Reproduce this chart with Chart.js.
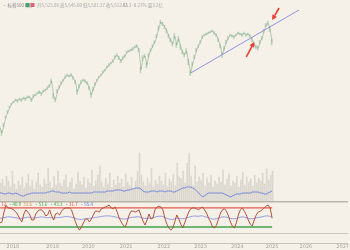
<!DOCTYPE html>
<html><head><meta charset="utf-8">
<script src="https://cdn.jsdelivr.net/npm/chart.js@4.4.1/dist/chart.umd.min.js"></script>
<style>html,body{margin:0;padding:0;background:#f5f0e8;overflow:hidden}#wrap{width:350px;height:250px}</style>
</head><body><div id="wrap"><canvas id="c" width="350" height="250"></canvas></div>
<script>
const yearLabels = ['2018','2019','2020','2021','2022','2023','2024','2025','2026','2027'];
const yearTickIndex = [6.5,26.5,44.5,63.5,82.5,101,119.5,137,154,172.5];
const prices = [
3080,3005,3125,3245,3320,3395,3440,3470,3500,3485,
3515,3500,3530,3515,3545,3545,3500,3560,3575,3605,
3620,3590,3635,3650,3680,3710,3785,3560,3500,3635,
3695,3755,3800,3845,3875,3860,3875,3830,3770,3620,
3710,3770,3800,3785,3755,3680,3575,3665,3740,3800,
3845,3875,3920,3950,3995,4025,4055,4085,4145,4175,
4130,4085,4130,4160,4220,4235,4250,4265,4295,4310,
4250,3950,4130,4160,4025,4175,4250,4310,4370,4460,
4580,4670,4640,4595,4535,4460,4400,4340,4460,4325,
4415,4295,4220,4175,4235,4070,3905,4040,4145,4250,
4310,4370,4445,4475,4490,4505,4520,4535,4505,4475,
4400,4310,4175,4280,4370,4430,4475,4460,4445,4475,
4505,4490,4475,4505,4475,4490,4460,4400,4340,4295,
4280,4370,4430,4535,4625,4655,4565,4370];
const priceSpread = [
25,35,25,15,20,15,15,10,15,20,
15,20,15,20,15,15,25,20,15,15,
20,20,15,15,20,20,30,35,30,25,
20,20,15,20,15,15,20,20,25,35,
30,20,15,20,20,25,35,30,20,15,
15,15,20,15,15,20,15,20,20,20,
25,25,20,20,15,15,15,20,15,20,
30,45,35,25,35,30,20,20,20,25,
30,25,25,25,30,30,30,30,35,35,
35,35,30,30,35,40,35,30,25,25,
20,20,20,15,15,15,15,15,20,20,
25,30,35,30,25,20,15,15,20,15,
15,15,20,15,20,15,20,25,30,30,
30,25,25,25,25,30,35,45];
const volumes = [
180,220,150,250,200,140,300,170,120,200,160,
240,130,180,270,150,210,120,190,280,160,
140,220,170,330,190,130,250,160,300,180,
150,210,260,140,190,230,120,170,290,200,
160,240,130,220,180,310,150,200,260,350,
190,140,230,170,280,130,210,160,250,180,
220,140,270,190,160,240,120,200,300,480,
260,190,150,230,180,330,140,210,170,250,
200,160,280,140,220,190,270,150,380,240,
220,300,180,380,480,250,160,350,190,240,
210,280,150,230,180,260,140,200,170,240,
190,310,160,220,270,150,200,180,250,140,
210,290,160,240,190,220,150,260,180,230,
200,280,170,320,210,260,300];
const volumeAvg = [
80,80,70,70,80,80,70,70,80,70,
60,50,50,60,70,70,80,80,80,80,
80,80,80,80,90,90,100,100,90,90,
90,80,80,80,80,90,80,80,80,80,
80,80,80,80,80,80,80,90,90,90,
90,90,90,90,100,100,100,100,110,110,
110,110,100,100,110,110,120,120,130,130,
130,120,100,90,90,90,100,100,100,90,
100,100,100,90,100,100,100,90,90,100,
110,120,130,130,140,140,140,130,120,100,
80,60,40,50,70,80,80,80,80,80,
80,80,80,70,60,50,40,50,60,70,
70,70,80,80,80,80,80,90,90,90,
90,80,80,70,70,80,90,100];
const oscFast = [
33,36,67,89,80,80,77,74,67,58,
45,36,61,74,67,58,42,42,61,70,
74,74,67,55,58,74,55,42,61,64,
58,70,77,80,80,80,74,55,36,20,
10,20,33,45,45,36,45,58,70,70,
67,77,80,83,86,89,80,77,83,67,
48,36,26,20,36,58,70,70,67,70,
74,55,39,26,42,61,45,48,74,83,
86,83,74,48,29,17,10,17,36,58,
45,29,17,33,51,67,77,80,80,77,
74,80,83,74,64,48,36,20,17,26,
45,64,74,77,70,55,36,23,17,33,
58,74,80,70,58,42,29,23,42,58,
67,70,74,80,86,89,80,48];
const oscSlow = [
48,47,49,51,52,52,51,50,49,48,
47,47,48,50,51,50,49,48,49,50,
51,52,51,50,49,50,49,48,49,50,
50,51,52,53,53,52,51,49,47,45,
44,44,45,46,47,47,48,49,50,51,
52,53,54,55,55,55,54,53,52,50,
48,46,45,45,46,48,50,51,51,52,
52,50,48,47,47,48,48,49,51,53,
54,54,53,50,47,45,44,44,46,48,
47,46,46,47,49,51,53,54,55,54,
54,55,55,53,51,49,47,45,45,46,
48,50,52,52,51,49,47,46,46,47,
49,51,52,51,49,47,46,46,47,49,
50,51,52,54,55,55,53,51];
const oscUpper = 80, oscLower = 20;
const trendLine = [{x:96,y:3905},{x:150.5,y:4850}];
const arrows = [
  {from:{x:140.5,y:4880}, to:{x:137,y:4700}},
  {from:{x:124,y:4145}, to:{x:128,y:4370}}
];
const headerTitle = '• 标普500 (日)';
const headerValues = '开5,523.86 高5,545.00 低5,501.27 收5,512.45';
const headerExtra = '-12.3 -0.27% 量3.2亿';
const oscLabels = [['12','#d9534f'],['·40.9','#3fa34d'],['31.6','#e0883a'],['·53.6','#3fa34d'],['·43.3','#3fa34d'],['·31.7','#d9534f'],['·55.4','#5b6fd6']];

const pts = a => a.map((v,i)=>({x:i,y:v}));
const lastIdx = prices.length - 1;

const overlay = {
  id:'overlay',
  afterDatasetsDraw(chart){
    const ctx = chart.ctx, xs = chart.scales.x, ys = chart.scales.y;
    ctx.save();
    ctx.strokeStyle = '#ee3b33'; ctx.fillStyle = '#ee3b33'; ctx.lineWidth = 1.6;
    arrows.forEach(a=>{
      const x1 = xs.getPixelForValue(a.from.x), y1 = ys.getPixelForValue(a.from.y);
      const x2 = xs.getPixelForValue(a.to.x), y2 = ys.getPixelForValue(a.to.y);
      const ang = Math.atan2(y2-y1, x2-x1), hl = 5, hw = 2.6;
      const bx = x2 - hl*Math.cos(ang), by = y2 - hl*Math.sin(ang);
      ctx.beginPath(); ctx.moveTo(x1,y1); ctx.lineTo(bx,by); ctx.stroke();
      ctx.beginPath(); ctx.moveTo(x2,y2);
      ctx.lineTo(bx + hw*Math.sin(ang), by - hw*Math.cos(ang));
      ctx.lineTo(bx - hw*Math.sin(ang), by + hw*Math.cos(ang));
      ctx.closePath(); ctx.fill();
    });
    ctx.font = '4.5px "Noto Sans CJK SC", "DejaVu Sans"';
    ctx.textBaseline = 'middle';
    ctx.fillStyle = '#8a8a8a';
    ctx.fillText(headerTitle, 2, 5);
    ctx.fillStyle = '#3fa36a'; ctx.fillRect(25.5,3,4,4);
    ctx.fillStyle = '#e0607a'; ctx.fillRect(30.5,3,4,4);
    ctx.fillStyle = '#a8a8a8';
    ctx.fillText(headerValues, 37, 5);
    ctx.fillText(headerExtra, 121, 5);
    const yo = chart.scales.yo;
    let lx = 1; const ly = yo.getPixelForValue(93);
    oscLabels.forEach(([t,c])=>{ ctx.fillStyle = c; ctx.fillText(t, lx, ly); lx += ctx.measureText(t).width + 2; });
    ctx.restore();
  }
};

new Chart(document.getElementById('c'), {
  data:{
    datasets:[
      {type:'bar', label:'成交量', data:pts(volumes), yAxisID:'yv', backgroundColor:'rgba(160,160,150,0.3)', barThickness:1, order:10},
      {type:'line', label:'均量', data:pts(volumeAvg), yAxisID:'yv', borderColor:'#7489d8', borderWidth:1, pointRadius:0, order:5},
      {type:'bar', label:'K线', data:prices.map((p,i)=>({x:i, y:[p-priceSpread[i], p+priceSpread[i]]})), yAxisID:'y', backgroundColor:'rgba(125,170,135,0.45)', barThickness:1, order:9},
      {type:'line', label:'价格', data:pts(prices), yAxisID:'y', borderColor:'rgba(125,172,136,0.8)', borderWidth:0.7, pointRadius:0, order:4},
      {type:'line', label:'趋势线', data:trendLine, yAxisID:'y', borderColor:'#8c94de', borderWidth:1, pointRadius:0, order:3},
      {type:'line', label:'上轨', data:[{x:0,y:oscUpper},{x:lastIdx,y:oscUpper}], yAxisID:'yo', borderColor:'#e35a4f', borderWidth:1.3, pointRadius:0, order:6},
      {type:'line', label:'下轨', data:[{x:0,y:oscLower},{x:lastIdx,y:oscLower}], yAxisID:'yo', borderColor:'#3fa34d', borderWidth:1.3, pointRadius:0, order:6},
      {type:'line', label:'慢线', data:pts(oscSlow), yAxisID:'yo', borderColor:'#8b93e0', borderWidth:0.9, pointRadius:0, order:2},
      {type:'line', label:'快线', data:pts(oscFast), yAxisID:'yo', borderColor:'#b4533d', borderWidth:1, pointRadius:0, order:1}
    ]
  },
  options:{
    responsive:false, animation:false, devicePixelRatio:1,
    layout:{padding:0},
    plugins:{legend:{display:false}, tooltip:{enabled:false}},
    scales:{
      x:{type:'linear', min:0, max:175, offset:false,
         grid:{display:false, drawTicks:false},
         border:{display:true, color:'#c9c4ba', width:1},
         afterBuildTicks:s=>{ s.ticks = yearTickIndex.map(v=>({value:v})); },
         afterFit:s=>{ s.height = 7; },
         ticks:{autoSkip:false, maxRotation:0, padding:1, color:'#aaa59c', font:{size:5, family:'DejaVu Sans'},
                callback:(v,i)=>yearLabels[i]}},
      y:{display:false, min:1355, max:5000},
      yv:{display:false, min:-420, max:2010},
      yo:{display:true, position:'right', min:-30.6, max:736.7,
          afterBuildTicks:s=>{ s.ticks = [{value:-2},{value:100}]; },
          afterFit:s=>{ s.width = 0; },
          ticks:{display:false},
          border:{display:false},
          grid:{drawTicks:false, color:c=> c.tick && c.tick.value===100 ? '#bbb6ab' : '#cdc8be', lineWidth:c=> c.tick && c.tick.value===100 ? 1.6 : 1}}
    }
  },
  plugins:[overlay]
});
</script></body></html>
